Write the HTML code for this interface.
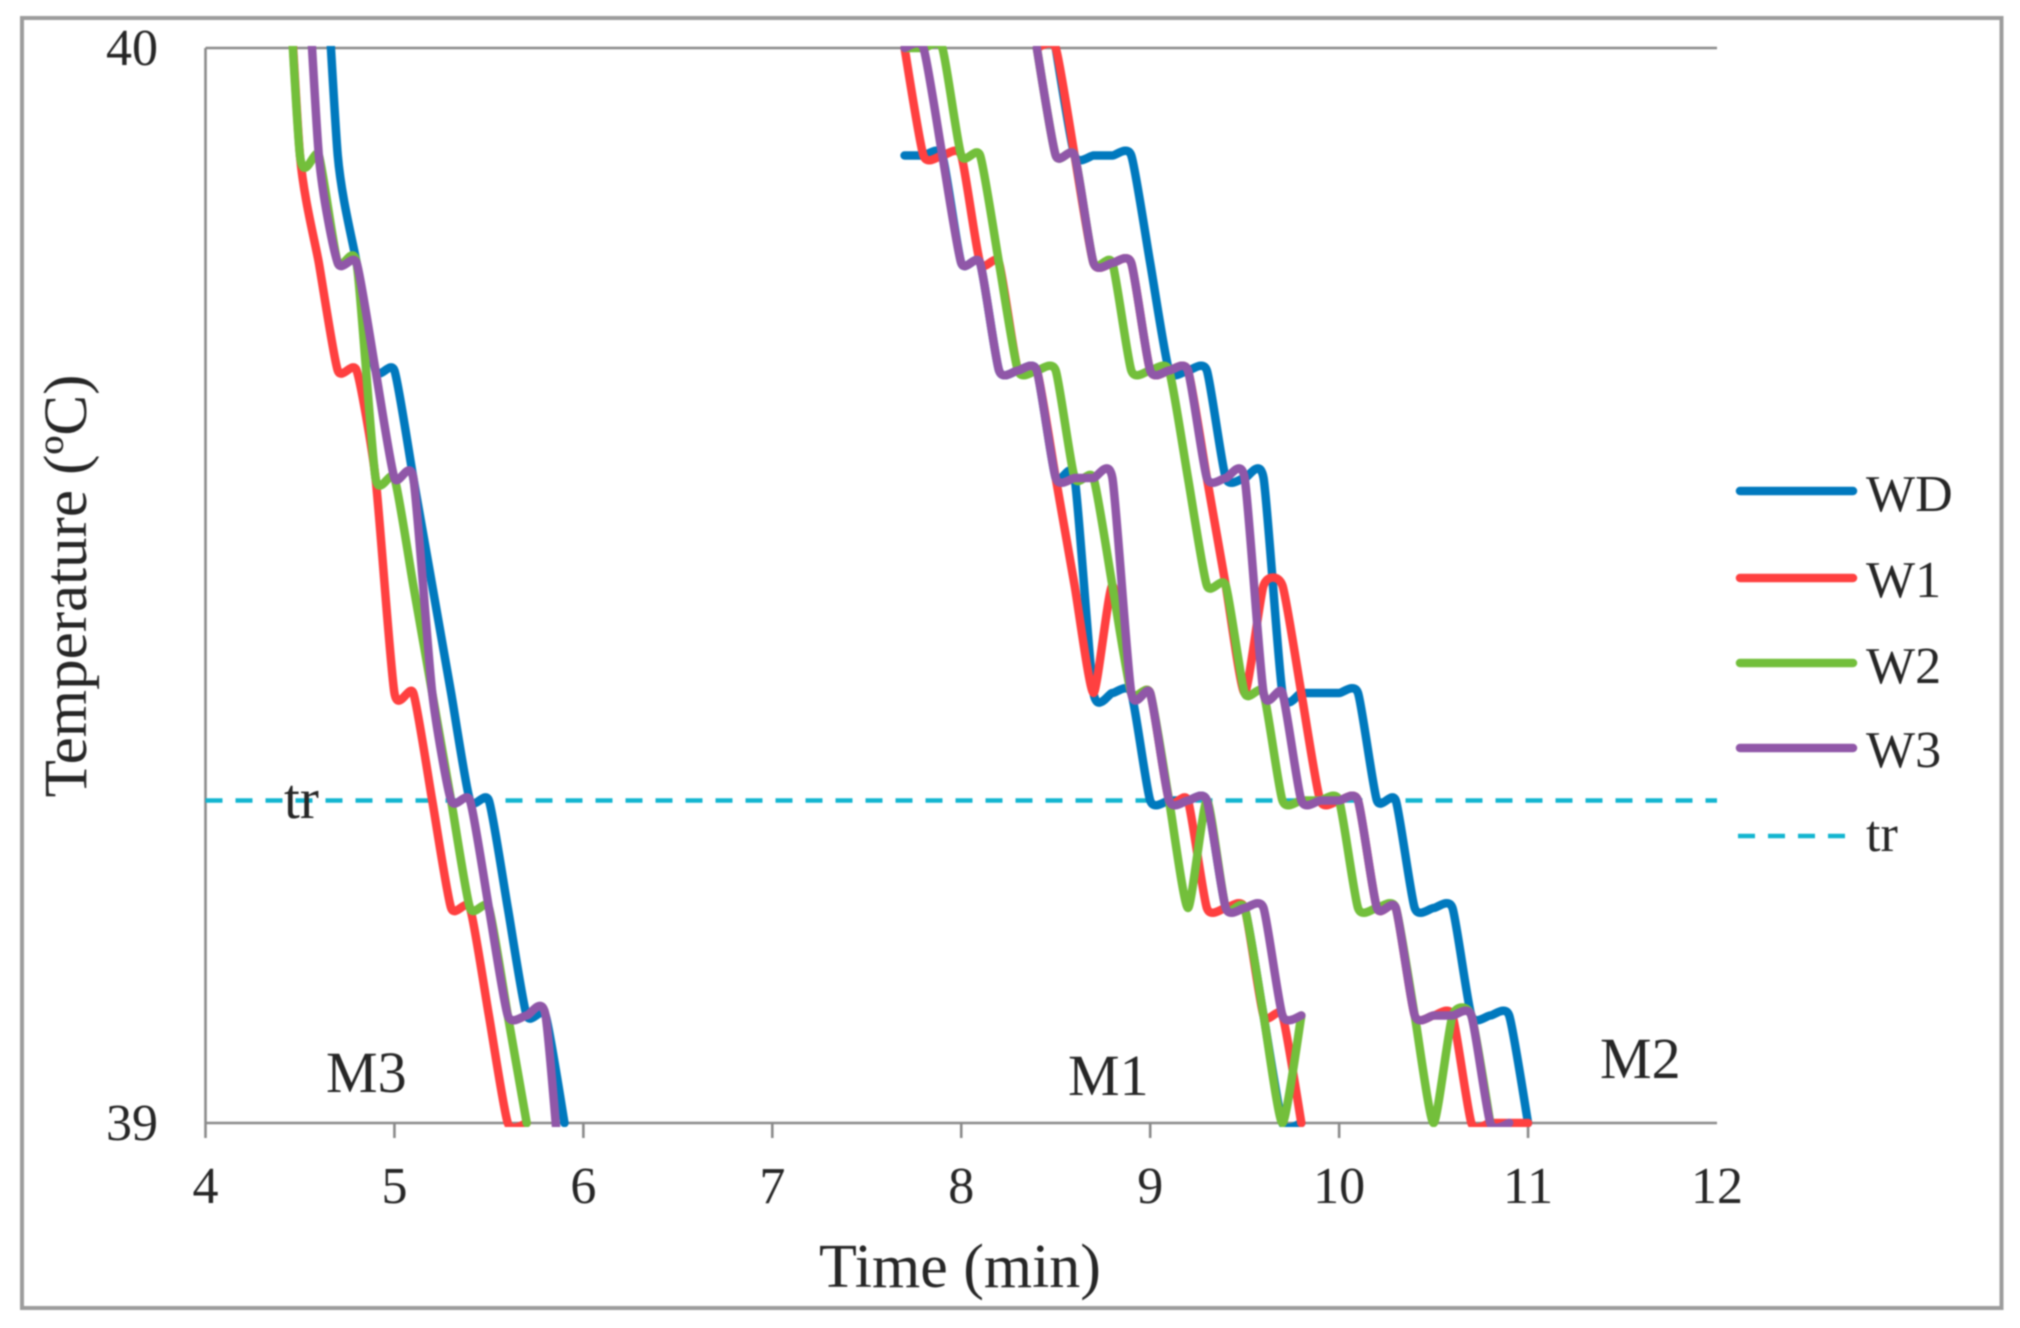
<!DOCTYPE html>
<html lang="en">
<head>
<meta charset="utf-8">
<title>Temperature vs Time</title>
<style>
  html, body { margin: 0; padding: 0; background: #fff; }
  body { width: 2020px; height: 1328px; overflow: hidden; }
  svg { display: block; filter: blur(0.7px); }
  text { font-family: "Liberation Serif", serif; fill: #262626; }
</style>
</head>
<body>
<svg id="chart" xmlns="http://www.w3.org/2000/svg" width="2020" height="1328" viewBox="0 0 2020 1328">
  <defs>
    <clipPath id="plot-clip"><rect x="205" y="46" width="1514" height="1081"></rect></clipPath>
  </defs>
  <rect x="0" y="0" width="2020" height="1328" fill="#ffffff"></rect>
  <rect x="22" y="18" width="1979.5" height="1290" fill="none" stroke="#9c9c9c" stroke-width="4"></rect>
  <g id="axes"></g>
  <g id="threshold"></g>
  <g id="series" clip-path="url(#plot-clip)"></g>
  <g id="labels"></g>
  <text x="960" y="1287" font-size="62" text-anchor="middle">Time (min)</text>
  <text transform="translate(86,586) rotate(-90)" font-size="61" text-anchor="middle">Temperature (ºC)</text>
  <text x="284" y="818" font-size="57">tr</text>
  <text x="326" y="1092" font-size="58">M3</text>
  <text x="1068" y="1095" font-size="58">M1</text>
  <text x="1600" y="1078" font-size="58">M2</text>
  <g>
    <line x1="1740" x2="1853" y1="491" y2="491" stroke="#0079be" stroke-width="8.5" stroke-linecap="round"></line>
    <text x="1866" y="511" font-size="52">WD</text>
    <line x1="1740" x2="1853" y1="578" y2="578" stroke="#ff4040" stroke-width="8.5" stroke-linecap="round"></line>
    <text x="1866" y="597" font-size="52">W1</text>
    <line x1="1740" x2="1853" y1="663" y2="663" stroke="#73bf3b" stroke-width="8.5" stroke-linecap="round"></line>
    <text x="1866" y="683" font-size="52">W2</text>
    <line x1="1740" x2="1853" y1="748" y2="748" stroke="#9057a8" stroke-width="8.5" stroke-linecap="round"></line>
    <text x="1866" y="767" font-size="52">W3</text>
    <line x1="1738" x2="1846" y1="836" y2="836" stroke="#12b5d0" stroke-width="4.5" stroke-dasharray="17 13"></line>
    <text x="1866" y="851" font-size="52">tr</text>
  </g>
</svg>
<script>
// Axis data
const xTickLabels = [4, 5, 6, 7, 8, 9, 10, 11, 12];
const yTickLabels = [39, 40];
const trValue = 39.3;
const trTimes = [4, 12];

// Cluster M3
const m3WdTime = [4.6,4.7,4.8,4.9,5.0,5.1,5.2,5.3,5.4,5.5,5.6,5.7,5.8,5.9];
const m3WdTemp = [40.2,39.9,39.8,39.7,39.7,39.6,39.5,39.4,39.3,39.3,39.2,39.1,39.1,39.0];
const m3W1Time = [4.4,4.5,4.6,4.7,4.8,4.9,5.0,5.1,5.2,5.3,5.4,5.5,5.6,5.7];
const m3W1Temp = [40.2,39.9,39.8,39.7,39.7,39.6,39.4,39.4,39.3,39.2,39.2,39.1,39.0,39.0];
const m3W2Time = [4.4,4.5,4.6,4.7,4.8,4.9,5.0,5.1,5.2,5.3,5.4,5.5,5.6,5.7];
const m3W2Temp = [40.2,39.9,39.9,39.8,39.8,39.6,39.6,39.5,39.4,39.3,39.2,39.2,39.1,39.0];
const m3W3Time = [4.5,4.6,4.7,4.8,4.9,5.0,5.1,5.2,5.3,5.4,5.5,5.6,5.7,5.8,5.9];
const m3W3Temp = [40.2,39.9,39.8,39.8,39.7,39.6,39.6,39.4,39.3,39.3,39.2,39.1,39.1,39.1,38.9];

// Cluster M1
const m1WdTime = [7.7,7.8,7.9,8.0,8.1,8.2,8.3,8.4,8.5,8.6,8.7,8.8,8.9,9.0,9.1,9.2,9.3,9.4,9.5,9.6,9.7,9.8];
const m1WdTemp = [39.9,39.9,39.9,39.8,39.8,39.7,39.7,39.7,39.6,39.6,39.4,39.4,39.4,39.3,39.3,39.3,39.3,39.2,39.2,39.1,39.0,39.0];
const m1W1Time = [7.7,7.8,7.9,8.0,8.1,8.2,8.3,8.4,8.5,8.6,8.7,8.8,8.9,9.0,9.1,9.2,9.3,9.4,9.5,9.6,9.7,9.8];
const m1W1Temp = [40.0,39.9,39.9,39.9,39.8,39.8,39.7,39.7,39.6,39.5,39.4,39.5,39.4,39.4,39.3,39.3,39.2,39.2,39.2,39.1,39.1,39.0];
const m1W2Time = [7.7,7.8,7.9,8.0,8.1,8.2,8.3,8.4,8.5,8.6,8.7,8.8,8.9,9.0,9.1,9.2,9.3,9.4,9.5,9.6,9.7,9.8];
const m1W2Temp = [40.0,40.0,40.0,39.9,39.9,39.8,39.7,39.7,39.7,39.6,39.6,39.5,39.4,39.4,39.3,39.2,39.3,39.2,39.2,39.1,39.0,39.1];
const m1W3Time = [7.7,7.8,7.9,8.0,8.1,8.2,8.3,8.4,8.5,8.6,8.7,8.8,8.9,9.0,9.1,9.2,9.3,9.4,9.5,9.6,9.7,9.8];
const m1W3Temp = [40.0,40.0,39.9,39.8,39.8,39.7,39.7,39.7,39.6,39.6,39.6,39.6,39.4,39.4,39.3,39.3,39.3,39.2,39.2,39.2,39.1,39.1];

// Cluster M2
const m2WdTime = [8.5,8.6,8.7,8.8,8.9,9.0,9.1,9.2,9.3,9.4,9.5,9.6,9.7,9.8,9.9,10.0,10.1,10.2,10.3,10.4,10.5,10.6,10.7,10.8,10.9,11.0];
const m2WdTemp = [40.0,39.9,39.9,39.9,39.9,39.8,39.7,39.7,39.7,39.6,39.6,39.6,39.4,39.4,39.4,39.4,39.4,39.3,39.3,39.2,39.2,39.2,39.1,39.1,39.1,39.0];
const m2W1Time = [8.4,8.5,8.6,8.7,8.8,8.9,9.0,9.1,9.2,9.3,9.4,9.5,9.6,9.7,9.8,9.9,10.0,10.1,10.2,10.3,10.4,10.5,10.6,10.7,10.8,10.9,11.0];
const m2W1Temp = [40.0,40.0,39.9,39.8,39.8,39.8,39.7,39.7,39.7,39.6,39.5,39.4,39.5,39.5,39.4,39.3,39.3,39.3,39.2,39.2,39.1,39.1,39.1,39.0,39.0,39.0,39.0];
const m2W2Time = [8.4,8.5,8.6,8.7,8.8,8.9,9.0,9.1,9.2,9.3,9.4,9.5,9.6,9.7,9.8,9.9,10.0,10.1,10.2,10.3,10.4,10.5,10.6,10.7,10.8];
const m2W2Temp = [40.0,39.9,39.9,39.8,39.8,39.7,39.7,39.7,39.6,39.5,39.5,39.4,39.4,39.3,39.3,39.3,39.3,39.2,39.2,39.2,39.1,39.0,39.1,39.1,39.0];
const m2W3Time = [8.4,8.5,8.6,8.7,8.8,8.9,9.0,9.1,9.2,9.3,9.4,9.5,9.6,9.7,9.8,9.9,10.0,10.1,10.2,10.3,10.4,10.5,10.6,10.7,10.8,10.9];
const m2W3Temp = [40.0,39.9,39.9,39.8,39.8,39.8,39.7,39.7,39.7,39.6,39.6,39.6,39.4,39.4,39.3,39.3,39.3,39.3,39.2,39.2,39.1,39.1,39.1,39.1,39.0,39.0];

const SVG_NS = 'http://www.w3.org/2000/svg';
const plotLeft = 205.5, plotRight = 1717, plotTop = 48, plotBottom = 1123;
const xMin = 4, xMax = 12, yMin = 39, yMax = 40;
const smoothDivisor = 10;
function xScale(t) { return plotLeft + (t - xMin) / (xMax - xMin) * (plotRight - plotLeft); }
function yScale(v) { return plotBottom - (v - yMin) / (yMax - yMin) * (plotBottom - plotTop); }

function smoothPath(times, temps) {
  const pts = times.map(function (t, i) { return [xScale(t), yScale(temps[i])]; });
  let d = 'M' + pts[0][0].toFixed(2) + ' ' + pts[0][1].toFixed(2);
  for (let i = 0; i < pts.length - 1; i++) {
    const p0 = pts[Math.max(i - 1, 0)];
    const p1 = pts[i];
    const p2 = pts[i + 1];
    const p3 = pts[Math.min(i + 2, pts.length - 1)];
    const c1x = p1[0] + (p2[0] - p0[0]) / smoothDivisor;
    const c1y = p1[1] + (p2[1] - p0[1]) / smoothDivisor;
    const c2x = p2[0] - (p3[0] - p1[0]) / smoothDivisor;
    const c2y = p2[1] - (p3[1] - p1[1]) / smoothDivisor;
    d += 'C' + c1x.toFixed(2) + ' ' + c1y.toFixed(2) + ' ' + c2x.toFixed(2) + ' ' + c2y.toFixed(2) + ' ' + p2[0].toFixed(2) + ' ' + p2[1].toFixed(2);
  }
  return d;
}

const axesGroup = document.getElementById('axes');
const labelsGroup = document.getElementById('labels');
const thresholdGroup = document.getElementById('threshold');
const seriesGroup = document.getElementById('series');

function addAxisLine(name, x1, y1, x2, y2) {
  const el = document.createElementNS(SVG_NS, 'line');
  
  
  el.setAttribute('x1', x1);
  el.setAttribute('y1', y1);
  el.setAttribute('x2', x2);
  el.setAttribute('y2', y2);
  el.setAttribute('stroke', '#8a8a8a');
  el.setAttribute('stroke-width', '2.6');
  axesGroup.appendChild(el);
}

addAxisLine('y-axis-line', plotLeft, plotTop, plotLeft, plotBottom + 15);
addAxisLine('top-axis-line', plotLeft, plotTop, plotRight, plotTop);
addAxisLine('x-axis-line', plotLeft, plotBottom, plotRight, plotBottom);

xTickLabels.forEach(function (value) {
  if (value !== xMin && value !== xMax) {
    addAxisLine('x-tick-' + value, xScale(value), plotBottom, xScale(value), plotBottom + 15);
  }
  const label = document.createElementNS(SVG_NS, 'text');
  
  
  label.setAttribute('x', xScale(value));
  label.setAttribute('y', 1203);
  label.setAttribute('font-size', '52');
  label.setAttribute('text-anchor', 'middle');
  label.textContent = value;
  labelsGroup.appendChild(label);
});

yTickLabels.forEach(function (value) {
  const label = document.createElementNS(SVG_NS, 'text');
  
  
  label.setAttribute('x', 158);
  label.setAttribute('y', yScale(value) + 17);
  label.setAttribute('font-size', '52');
  label.setAttribute('text-anchor', 'end');
  label.textContent = value;
  labelsGroup.appendChild(label);
});

const trLine = document.createElementNS(SVG_NS, 'line');


trLine.setAttribute('x1', xScale(trTimes[0]));
trLine.setAttribute('x2', xScale(trTimes[1]));
trLine.setAttribute('y1', yScale(trValue));
trLine.setAttribute('y2', yScale(trValue));
trLine.setAttribute('stroke', '#12b5d0');
trLine.setAttribute('stroke-width', '4.5');
trLine.setAttribute('stroke-dasharray', '17 13');
thresholdGroup.appendChild(trLine);

function addCurve(name, color, times, temps) {
  const el = document.createElementNS(SVG_NS, 'path');
  
  
  el.setAttribute('d', smoothPath(times, temps));
  el.setAttribute('fill', 'none');
  el.setAttribute('stroke', color);
  el.setAttribute('stroke-width', '8.5');
  el.setAttribute('stroke-linecap', 'round');
  el.setAttribute('stroke-linejoin', 'round');
  seriesGroup.appendChild(el);
}

const colorWD = '#0079be', colorW1 = '#ff4040', colorW2 = '#73bf3b', colorW3 = '#9057a8';

addCurve('m3-wd-line', colorWD, m3WdTime, m3WdTemp);
addCurve('m1-wd-line', colorWD, m1WdTime, m1WdTemp);
addCurve('m2-wd-line', colorWD, m2WdTime, m2WdTemp);
addCurve('m3-w1-line', colorW1, m3W1Time, m3W1Temp);
addCurve('m1-w1-line', colorW1, m1W1Time, m1W1Temp);
addCurve('m2-w1-line', colorW1, m2W1Time, m2W1Temp);
addCurve('m3-w2-line', colorW2, m3W2Time, m3W2Temp);
addCurve('m1-w2-line', colorW2, m1W2Time, m1W2Temp);
addCurve('m2-w2-line', colorW2, m2W2Time, m2W2Temp);
addCurve('m3-w3-line', colorW3, m3W3Time, m3W3Temp);
addCurve('m1-w3-line', colorW3, m1W3Time, m1W3Temp);
addCurve('m2-w3-line', colorW3, m2W3Time, m2W3Temp);
</script>
</body>
</html>
